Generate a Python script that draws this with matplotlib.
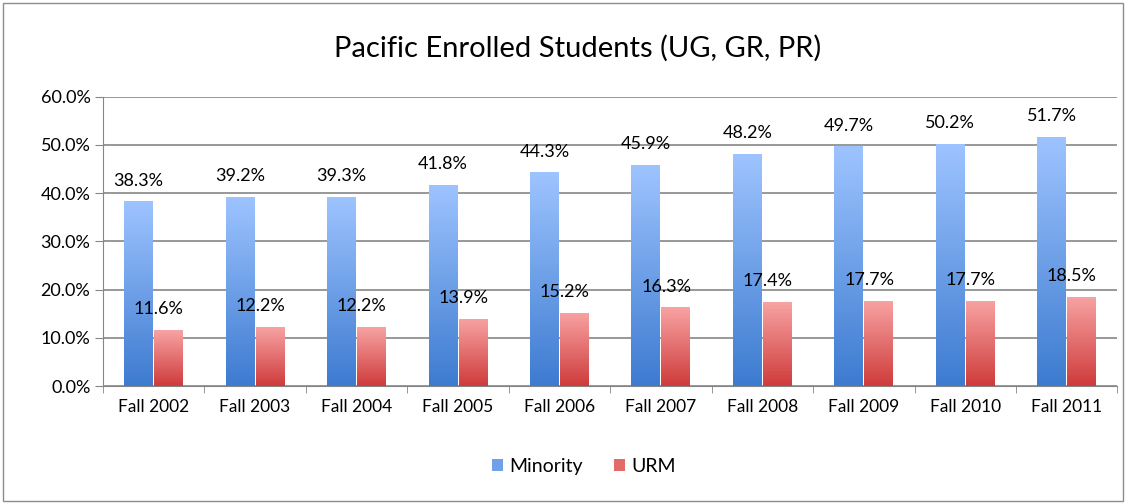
import numpy as np
import matplotlib.pyplot as plt
from matplotlib.patches import Rectangle
from matplotlib.colors import LinearSegmentedColormap

plt.rcParams['font.family'] = ['Lato', 'DejaVu Sans']

# data
years = ['Fall 2002', 'Fall 2003', 'Fall 2004', 'Fall 2005', 'Fall 2006',
         'Fall 2007', 'Fall 2008', 'Fall 2009', 'Fall 2010', 'Fall 2011']
minority = [38.3, 39.2, 39.3, 41.8, 44.3, 45.9, 48.2, 49.7, 50.2, 51.7]
urm = [11.6, 12.2, 12.2, 13.9, 15.2, 16.3, 17.4, 17.7, 17.7, 18.5]

blue_cm = LinearSegmentedColormap.from_list('b', ['#3D7BD0', '#9EC4FF'])
red_cm = LinearSegmentedColormap.from_list('r', ['#CF3B3B', '#F8A3A3'])

fig = plt.figure(figsize=(11.31, 5.04), dpi=100)
ax = fig.add_axes([0.091, 0.234, 0.897, 0.574])

x = np.arange(len(years))
w = 0.285
b1 = ax.bar(x - w / 2 - 0.005, minority, w, color='#6FA0E8', label='Minority', zorder=2)
b2 = ax.bar(x + w / 2 + 0.005, urm, w, color='#E46A6A', label='URM', zorder=2)

# gradient fill inside each bar
grad = np.linspace(0, 1, 256).reshape(-1, 1)
for bars, cm in [(b1, blue_cm), (b2, red_cm)]:
    for p in bars:
        x0, y0 = p.get_x(), p.get_y()
        im = ax.imshow(grad, cmap=cm, origin='lower', aspect='auto', zorder=3,
                       extent=[x0, x0 + p.get_width(), y0, y0 + p.get_height()])
        im.set_clip_path(p)

for p, v in zip(b1, minority):
    ax.annotate(f'{v:.1f}%', (p.get_x() + p.get_width() / 2, v), xytext=(0, 15),
                textcoords='offset points', ha='center', va='center', fontsize=13)
for p, v in zip(b2, urm):
    ax.annotate(f'{v:.1f}%', (p.get_x() + p.get_width() / 2, v), xytext=(-7, 15),
                textcoords='offset points', ha='center', va='center', fontsize=13)

ax.set_xlim(-0.5, len(years) - 0.5)
ax.set_ylim(0, 60)
ax.set_yticks(np.arange(0, 61, 10))
ax.set_yticklabels([f'{t:.1f}%' for t in np.arange(0, 61, 10)], fontsize=13)
ax.set_xticks(x)
ax.set_xticklabels(years, fontsize=12.5)
ax.set_xticks(np.arange(-0.5, len(years), 1), minor=True)
ax.tick_params(axis='x', which='major', length=0, pad=9)
ax.tick_params(axis='x', which='minor', length=5, color='#868686')
ax.tick_params(axis='y', length=6, color='#868686', pad=3)
ax.grid(axis='y', color='#868686', linewidth=1.2, zorder=0)
ax.set_axisbelow(True)
for s in ['top', 'right']:
    ax.spines[s].set_visible(False)
ax.spines['left'].set_color('#868686')
ax.spines['bottom'].set_color('#868686')

fig.text(0.511, 0.905, 'Pacific Enrolled Students (UG, GR, PR)', ha='center',
         va='center', fontsize=21)

leg = fig.legend(handles=[b1, b2], labels=['Minority', 'URM'], loc='center',
                 bbox_to_anchor=(0.516, 0.075), ncol=2, frameon=False, fontsize=14,
                 handlelength=0.6, handleheight=0.6, handletextpad=0.3, columnspacing=1.6)

fig.patches.append(Rectangle((0.003, 0.006), 0.99, 0.988, transform=fig.transFigure,
                             fill=False, edgecolor='#8C8C8C', linewidth=1))

plt.savefig('out.png', dpi=100)
